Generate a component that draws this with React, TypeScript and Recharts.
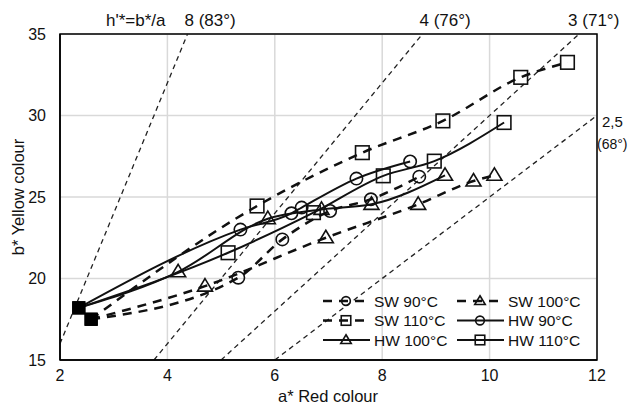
import {
  ComposedChart,
  Line,
  XAxis,
  YAxis,
  CartesianGrid,
  ReferenceLine,
  ReferenceDot,
  ReferenceArea,
  Label,
} from "recharts"

const FONT = "'Liberation Sans', Arial, sans-serif"

// untreated wood (filled squares)
const hwStart = { x: 2.35, y: 18.2 }
const swStart = { x: 2.58, y: 17.5 }

const sw90X = [5.32, 6.14, 7.03, 7.79, 8.69]
const sw90Y = [20.05, 22.4, 24.14, 24.86, 26.25]
const sw100X = [4.7, 6.95, 8.67, 9.7, 10.09]
const sw100Y = [19.53, 22.5, 24.55, 25.98, 26.33]
const sw110X = [5.67, 7.63, 9.13, 10.58, 11.45]
const sw110Y = [24.45, 27.72, 29.67, 32.34, 33.26]
const hw90X = [5.36, 6.31, 6.5, 7.52, 8.52]
const hw90Y = [23.0, 24.0, 24.35, 26.13, 27.18]
const hw100X = [4.2, 5.87, 6.87, 7.8, 9.17]
const hw100Y = [20.41, 23.67, 24.24, 24.55, 26.33]
const hw110X = [5.13, 6.72, 8.02, 8.97, 10.27]
const hw110Y = [21.58, 24.04, 26.3, 27.2, 29.57]

const xTicks = [2, 4, 6, 8, 10, 12]
const yTicks = [15, 20, 25, 30, 35]

// hue ratio lines b* = k * a*
const hueRatios = [8, 4, 3, 2.5]
const hueLabels = ["8 (83°)", "4 (76°)", "3 (71°)", "2,5 (68°)"]
const hueLabelDx = [-3, -3, -11, 0]

const build = (start, xs, ys) => [start, ...xs.map((x, i) => ({ x, y: ys[i] }))]

const series = [
  { name: "SW 90°C", data: build(swStart, sw90X, sw90Y), shape: "circle", dashed: true },
  { name: "SW 100°C", data: build(swStart, sw100X, sw100Y), shape: "triangle", dashed: true },
  { name: "SW 110°C", data: build(swStart, sw110X, sw110Y), shape: "square", dashed: true },
  { name: "HW 90°C", data: build(hwStart, hw90X, hw90Y), shape: "circle", dashed: false },
  { name: "HW 100°C", data: build(hwStart, hw100X, hw100Y), shape: "triangle", dashed: false },
  { name: "HW 110°C", data: build(hwStart, hw110X, hw110Y), shape: "square", dashed: false },
]

function Marker({ shape, cx, cy, filled = false, s = 1 }) {
  const stroke = "#111"
  if (filled) {
    return <rect x={cx - 6.5} y={cy - 6.5} width={13} height={13} fill="#000" />
  }
  if (shape === "circle") {
    return <circle cx={cx} cy={cy} r={6.2 * s} fill="none" stroke={stroke} strokeWidth={1.6} />
  }
  if (shape === "square") {
    const h = 6.8 * s
    return <rect x={cx - h} y={cy - h} width={2 * h} height={2 * h} fill="none" stroke={stroke} strokeWidth={1.6} />
  }
  return (
    <polygon
      points={`${cx},${cy - 7.5 * s} ${cx + 7.5 * s},${cy + 5 * s} ${cx - 7.5 * s},${cy + 5 * s}`}
      fill="none"
      stroke={stroke}
      strokeWidth={1.6}
    />
  )
}

function LegendBox() {
  const rows = [11, 30.5, 50]
  const cols = [0, 134]
  return (
    <svg
      width={280}
      height={62}
      style={{ position: "absolute", left: 318, top: 290, fontFamily: FONT }}
    >
      {series.map((s, i) => {
        const col = cols[i % 2]
        const y = rows[Math.floor(i / 2)]
        return (
          <g key={s.name}>
            <line
              x1={col + 5}
              x2={col + 52}
              y1={y}
              y2={y}
              stroke="#111"
              strokeWidth={s.dashed ? 2.5 : 2}
              strokeDasharray={s.dashed ? "9 7" : undefined}
            />
            <Marker shape={s.shape} cx={col + 28} cy={y} s={0.7} />
            <text x={col + 56} y={y + 5.5} fontSize={15.5} fill="#111">
              {s.name}
            </text>
          </g>
        )
      })}
    </svg>
  )
}

export default function App() {
  return (
    <div style={{ position: "absolute", left: 0, top: 0, width: 629, height: 410, background: "#fff" }}>
      <ComposedChart
        width={629}
        height={410}
        margin={{ top: 34, right: 32, bottom: 20, left: 20 }}
        style={{ fontFamily: FONT }}
      >
        <CartesianGrid stroke="#d9d9d9" strokeWidth={1.5} />
        <XAxis
          type="number"
          dataKey="x"
          domain={[2, 12]}
          ticks={xTicks}
          allowDataOverflow
          height={30}
          tickSize={0}
          tickMargin={10}
          axisLine={{ stroke: "#000", strokeWidth: 1.5 }}
          tick={{ fontSize: 16, fill: "#111" }}
        />
        <YAxis
          type="number"
          dataKey="y"
          domain={[15, 35]}
          ticks={yTicks}
          allowDataOverflow
          width={40}
          tickSize={0}
          tickMargin={14}
          axisLine={{ stroke: "#000", strokeWidth: 1.5 }}
          tick={{ fontSize: 16, fill: "#111" }}
        />
        <ReferenceArea x1={2} x2={12} y1={15} y2={35} fill="none" stroke="#000" strokeWidth={1.5} />
        {hueRatios.map((k) => {
          const x1 = Math.max(2, 15 / k)
          const x2 = Math.min(12, 35 / k)
          return (
            <ReferenceLine
              key={"r" + k}
              segment={[
                { x: x1, y: k * x1 },
                { x: x2, y: k * x2 },
              ]}
              stroke="#222"
              strokeWidth={1.3}
              strokeDasharray="5 4"
            />
          )
        })}
        {hueRatios.map((k, i) => {
          const x2 = Math.min(12, 35 / k)
          return (
            <ReferenceDot
              key={"l" + k}
              x={x2}
              y={k * x2}
              r={1}
              fill="none"
              stroke="none"
              ifOverflow="visible"
            >
              <Label
                content={(props) => {
                  const vb = props.viewBox || {}
                  const cx = (vb.x ?? 0) + 1
                  const cy = (vb.y ?? 0) + 1
                  if (k === 2.5) {
                    const [a, b] = hueLabels[i].split(" ")
                    return (
                      <text fontSize={15} fill="#111" fontFamily={FONT}>
                        <tspan x={cx + 5} y={cy + 11}>{a}</tspan>
                        <tspan x={cx} y={cy + 33} fontSize={14}>{b}</tspan>
                      </text>
                    )
                  }
                  return (
                    <text x={cx + hueLabelDx[i]} y={cy - 8} fontSize={17} fill="#111" fontFamily={FONT}>
                      {hueLabels[i]}
                    </text>
                  )
                }}
              />
            </ReferenceDot>
          )
        })}
        {series.map((s) => (
          <Line
            key={s.name}
            data={s.data}
            dataKey="y"
            type="monotone"
            stroke="#111"
            strokeWidth={s.dashed ? 2.5 : 2}
            strokeDasharray={s.dashed ? "9 7" : undefined}
            isAnimationActive={false}
            dot={(p) => (
              <Marker key={s.name + p.index} shape={s.shape} cx={p.cx} cy={p.cy} filled={p.index === 0} />
            )}
            activeDot={false}
          />
        ))}
      </ComposedChart>
      <svg
        width={629}
        height={410}
        style={{ position: "absolute", left: 0, top: 0, pointerEvents: "none", fontFamily: FONT }}
      >
        <text x={106} y={26} fontSize={17} fill="#111">
          h'*=b*/a
        </text>
        <text x={328} y={402} fontSize={16.5} fill="#111" textAnchor="middle">
          a* Red colour
        </text>
        <text
          x={24}
          y={197}
          fontSize={16.5}
          fill="#111"
          textAnchor="middle"
          transform="rotate(-90 24 197)"
        >
          b* Yellow colour
        </text>
      </svg>
      <LegendBox />
    </div>
  )
}
